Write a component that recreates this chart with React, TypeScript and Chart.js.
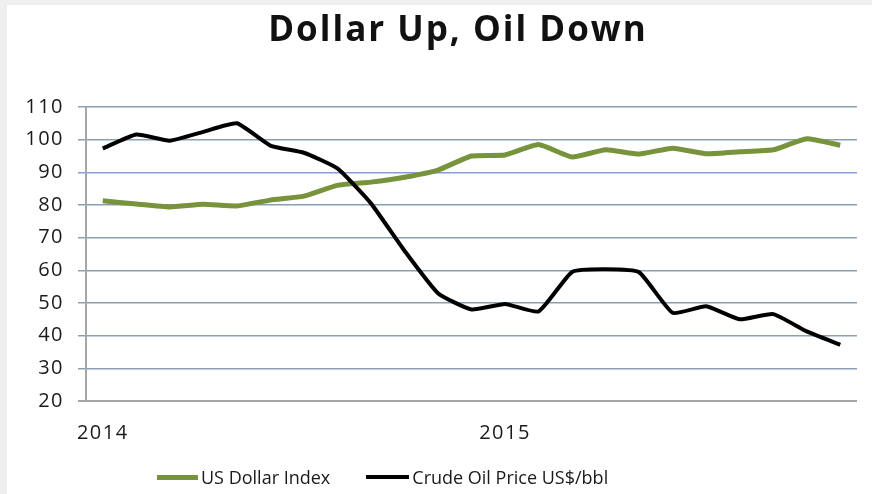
import React, { useEffect, useRef } from "react";
import { Chart, registerables } from "chart.js";

Chart.register(...registerables);

const TITLE = "Dollar Up, Oil Down";
const periods = ["2014", "", "", "", "", "", "", "", "", "", "", "", "2015", "", "", "", "", "", "", "", "", "", ""];
const usDollarIndex = [81.3, 80.3, 79.4, 80.2, 79.7, 81.5, 82.7, 86.0, 87.0, 88.5, 90.7, 95.0, 95.3, 98.5, 94.7, 96.9, 95.6, 97.4, 95.7, 96.3, 96.9, 100.3, 98.3];
const crudeOilPrice = [97.3, 101.6, 99.7, 102.4, 105.0, 98.2, 96.0, 91.2, 80.5, 66.0, 53.0, 48.0, 49.7, 47.4, 59.5, 60.3, 59.4, 47.0, 49.0, 45.0, 46.6, 41.3, 37.2];
const seriesNames = ["US Dollar Index", "Crude Oil Price US$/bbl"];
const yMin = 20;
const yMax = 110;
const yStep = 10;

const GREEN = "#77933c";
const BLACK = "#000000";
const FONT = "'Open Sans', 'Noto Sans', sans-serif";

const spacingPlugin = {
  id: "letterSpacing",
  beforeDraw(chart: any) {
    try {
      chart.ctx.letterSpacing = "1.5px";
    } catch (e) {}
  },
};

export default function App() {
  const ref = useRef<HTMLCanvasElement | null>(null);

  useEffect(() => {
    if (!ref.current) return;
    const chart = new Chart(ref.current, {
      type: "line",
      data: {
        labels: periods,
        datasets: [
          {
            label: seriesNames[0],
            data: usDollarIndex,
            borderColor: GREEN,
            backgroundColor: GREEN,
            borderWidth: 5,
            pointRadius: 0,
            tension: 0.15,
            order: 1,
          },
          {
            label: seriesNames[1],
            data: crudeOilPrice,
            borderColor: BLACK,
            backgroundColor: BLACK,
            borderWidth: 4,
            pointRadius: 0,
            tension: 0.15,
            order: 0,
          },
        ],
      },
      plugins: [spacingPlugin],
      options: {
        responsive: false,
        animation: false,
        layout: { padding: { top: 107, right: 15, left: 0, bottom: 0 } },
        plugins: {
          legend: { display: false },
          title: { display: false },
          tooltip: { enabled: false },
        },
        scales: {
          x: {
            offset: true,
            grid: { display: false, drawTicks: false },
            border: { display: false },
            ticks: {
              autoSkip: false,
              maxRotation: 0,
              padding: 20,
              color: "#1a1a1a",
              font: { family: FONT, size: 20 },
            },
            afterFit: (s: any) => {
              s.height = 93;
            },
          },
          y: {
            min: yMin,
            max: yMax,
            ticks: {
              stepSize: yStep,
              padding: 14,
              color: "#1a1a1a",
              font: { family: FONT, size: 20 },
            },
            grid: {
              tickLength: 8,
              lineWidth: (c: any) => (c.tick && c.tick.value === yMin ? 2 : 1.5),
              color: (c: any) => {
                const v = c.tick ? c.tick.value : 0;
                if (v === yMin) return "#a6a6a6";
                if (v === 90) return "#8a9bd6";
                return "#8aa0b2";
              },
            },
            border: { display: true, color: "#a6a6a6", width: 2 },
            afterFit: (s: any) => {
              s.width = 86;
            },
          },
        },
      },
    });
    return () => chart.destroy();
  }, []);

  return (
    <div style={{ position: "absolute", left: 0, top: 0, width: 872, height: 494, background: "#efefef", overflow: "hidden" }}>
      <div style={{ position: "absolute", left: 7, top: 5, right: 0, bottom: 0, background: "#ffffff" }} />
      <canvas ref={ref} width={872} height={494} style={{ position: "absolute", left: 0, top: 0 }} />
      <div
        style={{
          position: "absolute",
          left: 458,
          top: 10,
          transform: "translateX(-50%)",
          whiteSpace: "nowrap",
          fontFamily: FONT,
          fontWeight: 700,
          fontSize: 35,
          letterSpacing: "2px",
          lineHeight: "35px",
          color: "#111",
        }}
      >
        {TITLE}
      </div>
      <div
        style={{
          position: "absolute",
          left: 157,
          top: 465,
          display: "flex",
          alignItems: "center",
          fontFamily: FONT,
          fontSize: 18,
          lineHeight: "24px",
          color: "#1a1a1a",
          whiteSpace: "nowrap",
        }}
      >
        <span style={{ display: "inline-block", width: 41, height: 5, background: GREEN, marginRight: 3 }} />
        <span>{seriesNames[0]}</span>
        <span style={{ display: "inline-block", width: 43, height: 4, background: BLACK, marginLeft: 36, marginRight: 3 }} />
        <span>{seriesNames[1]}</span>
      </div>
    </div>
  );
}
